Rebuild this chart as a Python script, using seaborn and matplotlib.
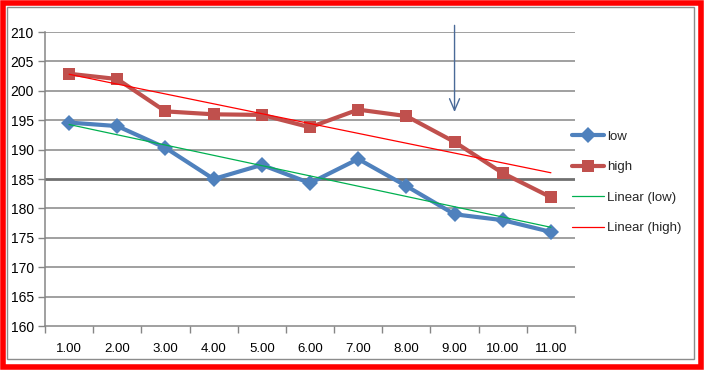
import numpy as np
import pandas as pd
import matplotlib
matplotlib.use("Agg")
import matplotlib.pyplot as plt
from matplotlib.patches import Rectangle
from matplotlib.lines import Line2D
import seaborn as sns

categories = ["1.00", "2.00", "3.00", "4.00", "5.00", "6.00", "7.00", "8.00", "9.00", "10.00", "11.00"]
low = [194.6, 194.0, 190.3, 185.0, 187.4, 184.3, 188.4, 183.8, 179.0, 178.0, 176.0]
high = [202.9, 202.0, 196.5, 196.0, 195.9, 193.8, 196.8, 195.7, 191.3, 186.0, 181.9]
y_ticks = [160, 165, 170, 175, 180, 185, 190, 195, 200, 205, 210]

sns.set_theme(style="white")
plt.rcParams["font.family"] = ["Liberation Sans", "DejaVu Sans"]

W, H = 704, 370
fig = plt.figure(figsize=(W / 100, H / 100), dpi=100)
ax = fig.add_axes([45 / W, (H - 326) / H, 530 / W, 294 / H])

pos = np.arange(len(categories))
df = pd.DataFrame({
    "pos": np.concatenate([pos, pos]),
    "value": low + high,
    "series": ["low"] * len(low) + ["high"] * len(high),
})

blue = "#4F81BD"
red = "#C0504D"
green = "#00B050"
tred = "#FF0000"
grid_c = "#868686"

# gridlines
for yv in y_ticks[1:]:
    ax.axhline(yv, color="#707070" if yv == 185 else grid_c,
               lw=2.0 if yv == 185 else 1.1, zorder=0)

# trendlines (linear fit of each series)
for vals, col in [(low, green), (high, tred)]:
    k, b = np.polyfit(pos + 1, vals, 1)
    ax.plot(pos, k * (pos + 1) + b, color=col, lw=0.9, zorder=3)

sns.lineplot(data=df, x="pos", y="value", hue="series", style="series",
             palette={"low": blue, "high": red},
             markers={"low": "D", "high": "s"}, dashes=False,
             linewidth=3, markersize=8.5, markeredgewidth=0,
             legend=False, ax=ax, zorder=2)

ax.set_xlim(-0.5, len(categories) - 0.5)
ax.set_ylim(160, 210)
ax.set_yticks(y_ticks)
ax.set_yticklabels([str(v) for v in y_ticks])
ax.set_xticks(pos)
ax.set_xticklabels(categories)
ax.set_xticks(np.arange(-0.5, len(categories), 1.0), minor=True)
ax.set_xlabel("")
ax.set_ylabel("")
ax.tick_params(axis="x", which="major", length=0, pad=12, labelsize=9.5, colors="black")
ax.tick_params(axis="x", which="minor", length=5, width=1, color=grid_c, direction="out", bottom=True)
ax.tick_params(axis="y", length=5, width=1, color=grid_c, direction="out", left=True, pad=3,
               labelsize=10, colors="black")
for s in ["top", "right"]:
    ax.spines[s].set_visible(False)
for s in ["left", "bottom"]:
    ax.spines[s].set_color(grid_c)
    ax.spines[s].set_linewidth(1.1)

# arrow annotation
ax.annotate("", xy=(8, 195.9), xytext=(8, 211.6),
            arrowprops=dict(arrowstyle="->,head_length=0.7,head_width=0.3",
                            color="#4A6A98", lw=1.0),
            annotation_clip=False)

# legend
handles = [
    Line2D([], [], color=blue, lw=3, marker="D", markersize=8, markeredgewidth=0),
    Line2D([], [], color=red, lw=3, marker="s", markersize=8, markeredgewidth=0),
    Line2D([], [], color=green, lw=0.9),
    Line2D([], [], color=tred, lw=0.9),
]
fig.legend(handles, ["low", "high", "Linear (low)", "Linear (high)"],
           loc="center left", bbox_to_anchor=(572 / W, 1 - 182.5 / H),
           bbox_transform=fig.transFigure, frameon=False, fontsize=9.5,
           handlelength=2.4, handletextpad=0.25, labelspacing=1.38,
           borderpad=0, borderaxespad=0)

# borders
fig.patches.append(Rectangle((7 / W, (H - 359) / H), 687 / W, 352 / H,
                             transform=fig.transFigure, fill=False,
                             edgecolor="#8C8C8C", lw=1.0))
fig.patches.append(Rectangle((2.5 / W, 3 / H), (W - 5.5) / W, (H - 5.5) / H,
                             transform=fig.transFigure, fill=False,
                             edgecolor="#FF0000", lw=4.0))

fig.savefig("out.png", dpi=100)
